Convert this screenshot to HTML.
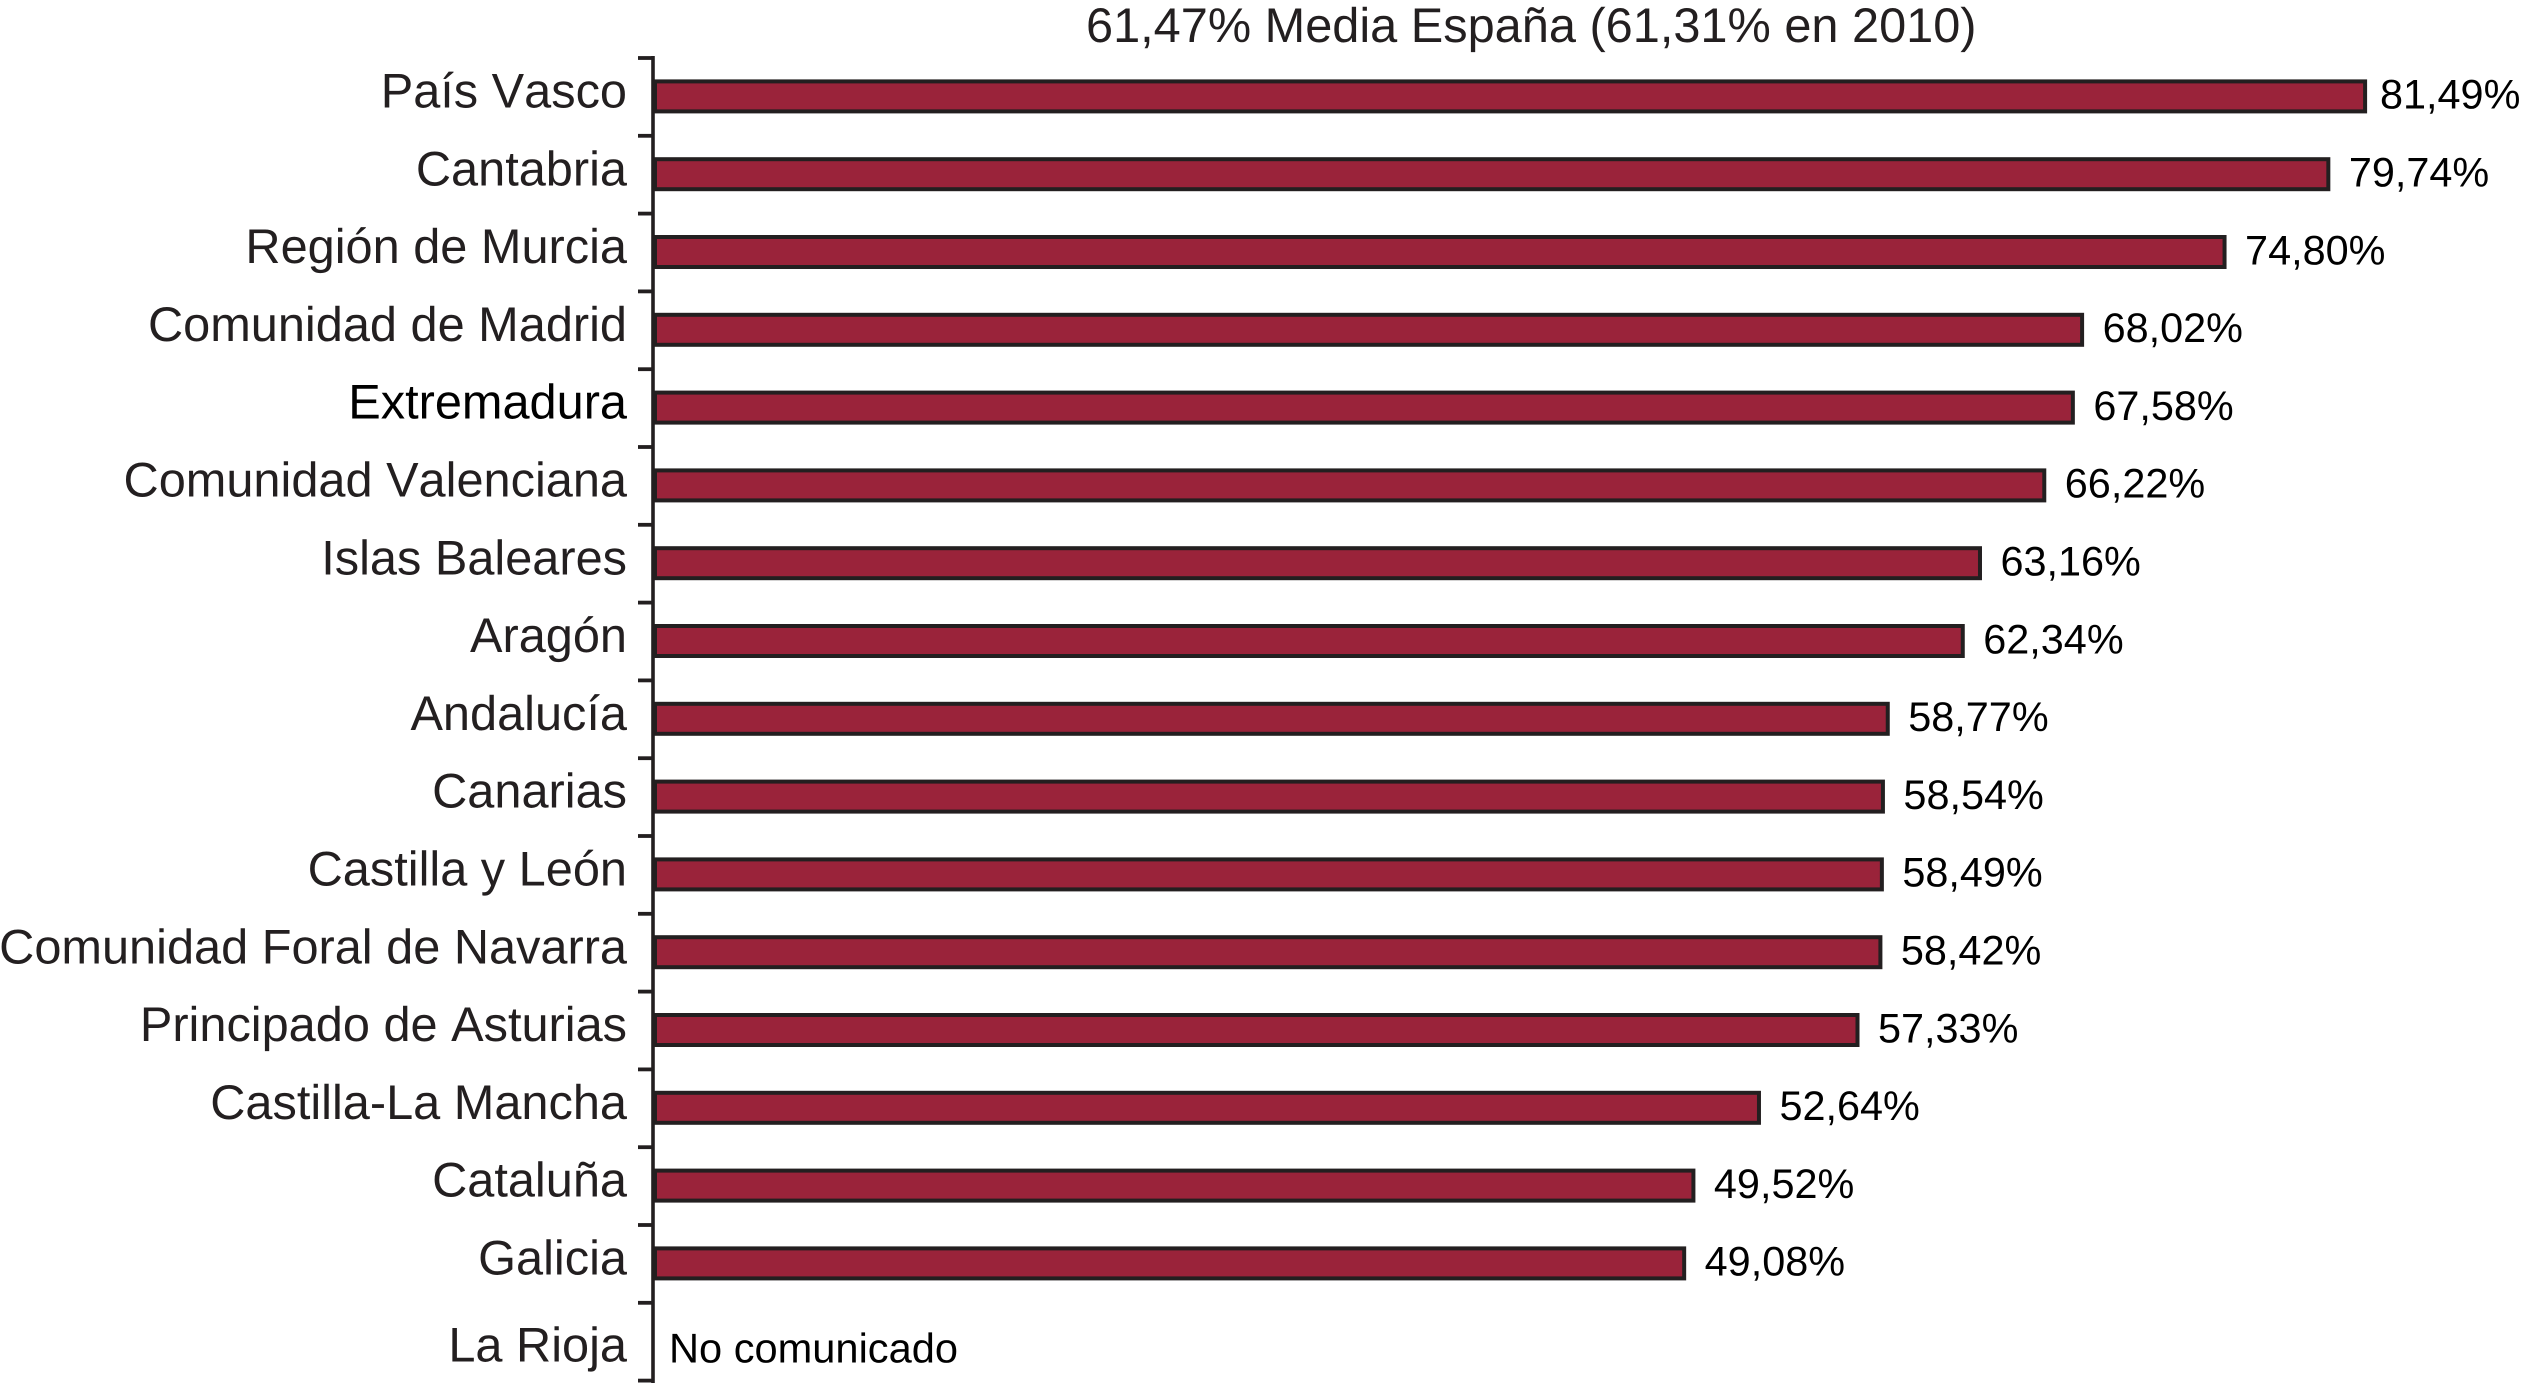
<!DOCTYPE html>
<html lang="es">
<head>
<meta charset="utf-8">
<title>61,47% Media España</title>
<style>
html,body{margin:0;padding:0;background:#fff;width:2532px;height:1383px;overflow:hidden}
svg{display:block}
text{font-family:"Liberation Sans",Arial,sans-serif;text-rendering:geometricPrecision;font-kerning:none}
</style>
</head>
<body>
<svg id="chart" xmlns="http://www.w3.org/2000/svg" width="2532" height="1383" viewBox="0 0 2532 1383">
  <rect x="0" y="0" width="2532" height="1383" fill="#fff"/>
  <text x="1086" y="42" font-size="48.7" fill="#231f20">61,47% Media España (61,31% en 2010)</text>
</svg>
<script>
var categories = ["País Vasco","Cantabria","Región de Murcia","Comunidad de Madrid","Extremadura","Comunidad Valenciana","Islas Baleares","Aragón","Andalucía","Canarias","Castilla y León","Comunidad Foral de Navarra","Principado de Asturias","Castilla-La Mancha","Cataluña","Galicia","La Rioja"];
var values = [81.49,79.74,74.80,68.02,67.58,66.22,63.16,62.34,58.77,58.54,58.49,58.42,57.33,52.64,49.52,49.08,null];
var missingLabel = "No comunicado";

var NS = "http://www.w3.org/2000/svg";
var svg = document.getElementById("chart");
var AXIS_X = 653, TOP = 58, BAND = 77.8, BASE = 655, SCALE = 21.01;

function xScale(v){ return BASE + SCALE * v; }
function bandTop(i){ return TOP + BAND * i; }
function bandCenter(i){ return bandTop(i) + BAND / 2; }
function make(tag, attrs){
  var el = document.createElementNS(NS, tag);
  for (var k in attrs) el.setAttribute(k, attrs[k]);
  svg.appendChild(el);
  return el;
}
function slug(s){
  return s.toLowerCase().normalize("NFD").replace(/[\u0300-\u036f]/g,"").replace(/[^a-z0-9]+/g,"-");
}
function fmt(v){ return v.toFixed(2).replace(".", ",") + "%"; }

var axis = make("line", {x1:AXIS_X, x2:AXIS_X, y1:TOP-2, y2:1383, stroke:"#231f20", "stroke-width":3.6});



for (var t = 0; t <= categories.length; t++) {
  var tick = make("line", {x1:638, x2:AXIS_X, y1:bandTop(t), y2:bandTop(t), stroke:"#231f20", "stroke-width":3.8});
  
  
}

categories.forEach(function(name, i){
  var v = values[i];
  var c = bandCenter(i);
  var hasValue = v !== null && v !== undefined;

  var label = make("text", {x:627, y:c + (hasValue ? 10.6 : 20), "font-size":48.7, "text-anchor":"end", fill: name === "Extremadura" ? "#000" : "#231f20"});
  label.textContent = name;
  
  

  if (hasValue) {
    var right = xScale(v);
    var bar = make("rect", {x:BASE, y:c-15.5, width:right-2-BASE, height:30, fill:"#9a233a", stroke:"#231f20", "stroke-width":4});
    
    

    var val = make("text", {x:Math.min(right + 18.5, 2380), y:c + 11.8, "font-size":41.4, fill:"#000"});
    val.textContent = fmt(v);
    
    
  } else {
    var none = make("text", {x:669, y:c + 21, "font-size":41.6, fill:"#000"});
    none.textContent = missingLabel;
    
    
  }
});
</script>
</body>
</html>
